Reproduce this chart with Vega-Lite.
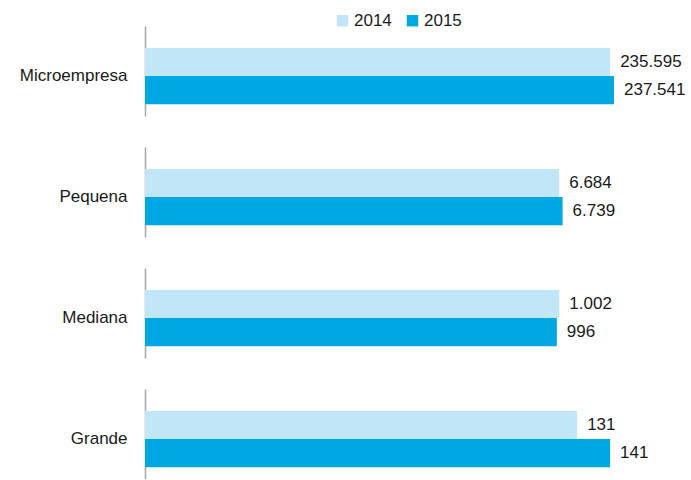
{
  "$schema": "https://vega.github.io/schema/vega-lite/v6.json",
  "padding": {"left": 19, "top": 12, "right": 5, "bottom": 0},
  "data": {"values": [
    {"categoria": "Microempresa", "ano": "2014", "valor": 235595},
    {"categoria": "Microempresa", "ano": "2015", "valor": 237541},
    {"categoria": "Pequena", "ano": "2014", "valor": 6684},
    {"categoria": "Pequena", "ano": "2015", "valor": 6739},
    {"categoria": "Mediana", "ano": "2014", "valor": 1002},
    {"categoria": "Mediana", "ano": "2015", "valor": 996},
    {"categoria": "Grande", "ano": "2014", "valor": 131},
    {"categoria": "Grande", "ano": "2015", "valor": 141}
  ]},
  "config": {
    "view": {"stroke": null},
    "font": "Liberation Sans",
    "locale": {"number": {"decimal": ",", "thousands": ".", "grouping": [3], "currency": ["", ""]}},
    "axisY": {"title": null, "labelFontSize": 17, "ticks": false, "labelPadding": 18, "domainColor": "#A6A6A6", "domainWidth": 1.5, "labelColor": "#1a1a1a", "grid": false},
    "text": {"fontSize": 17, "color": "#1a1a1a"}
  },
  "spacing": 31,
  "vconcat": [
    {
      "width": 540, "height": 90,
      "transform": [{"filter": "datum.categoria === 'Microempresa'"}],
      "encoding": {
        "y": {"field": "categoria", "type": "nominal", "scale": {"paddingOuter": 0.3, "paddingInner": 0, "align": 0.65}},
        "yOffset": {"field": "ano", "type": "nominal", "sort": ["2014", "2015"], "scale": {"paddingInner": 0, "paddingOuter": 0}},
        "x": {"field": "valor", "type": "quantitative", "scale": {"domain": [0, 273500]}, "axis": null}
      },
      "layer": [
        {"mark": {"type": "bar"}, "encoding": {"color": {"field": "ano", "type": "nominal", "scale": {"domain": ["2014", "2015"], "range": ["#C0E6F8", "#00A8E1"]},
          "legend": {"orient": "none", "legendX": 189, "legendY": -14, "direction": "horizontal", "title": null, "symbolType": "square", "symbolSize": 130, "symbolStrokeWidth": 0, "labelFontSize": 17, "labelColor": "#1a1a1a", "columnPadding": 12, "labelOffset": 3}}}},
        {"mark": {"type": "text", "align": "left", "baseline": "middle", "dx": 10}, "encoding": {"text": {"field": "valor", "type": "quantitative", "format": ",d"}}}
      ]
    },
    {
      "width": 540, "height": 90,
      "transform": [{"filter": "datum.categoria === 'Pequena'"}],
      "encoding": {
        "y": {"field": "categoria", "type": "nominal", "scale": {"paddingOuter": 0.3, "paddingInner": 0, "align": 0.65}},
        "yOffset": {"field": "ano", "type": "nominal", "sort": ["2014", "2015"], "scale": {"paddingInner": 0, "paddingOuter": 0}},
        "x": {"field": "valor", "type": "quantitative", "scale": {"domain": [0, 8714]}, "axis": null}
      },
      "layer": [
        {"mark": {"type": "bar"}, "encoding": {"color": {"field": "ano", "type": "nominal", "scale": {"domain": ["2014", "2015"], "range": ["#C0E6F8", "#00A8E1"]}, "legend": null}}},
        {"mark": {"type": "text", "align": "left", "baseline": "middle", "dx": 10}, "encoding": {"text": {"field": "valor", "type": "quantitative", "format": ",d"}}}
      ]
    },
    {
      "width": 540, "height": 90,
      "transform": [{"filter": "datum.categoria === 'Mediana'"}],
      "encoding": {
        "y": {"field": "categoria", "type": "nominal", "scale": {"paddingOuter": 0.3, "paddingInner": 0, "align": 0.65}},
        "yOffset": {"field": "ano", "type": "nominal", "sort": ["2014", "2015"], "scale": {"paddingInner": 0, "paddingOuter": 0}},
        "x": {"field": "valor", "type": "quantitative", "scale": {"domain": [0, 1306]}, "axis": null}
      },
      "layer": [
        {"mark": {"type": "bar"}, "encoding": {"color": {"field": "ano", "type": "nominal", "scale": {"domain": ["2014", "2015"], "range": ["#C0E6F8", "#00A8E1"]}, "legend": null}}},
        {"mark": {"type": "text", "align": "left", "baseline": "middle", "dx": 10}, "encoding": {"text": {"field": "valor", "type": "quantitative", "format": ",d"}}}
      ]
    },
    {
      "width": 540, "height": 90,
      "transform": [{"filter": "datum.categoria === 'Grande'"}],
      "encoding": {
        "y": {"field": "categoria", "type": "nominal", "scale": {"paddingOuter": 0.3, "paddingInner": 0, "align": 0.65}},
        "yOffset": {"field": "ano", "type": "nominal", "sort": ["2014", "2015"], "scale": {"paddingInner": 0, "paddingOuter": 0}},
        "x": {"field": "valor", "type": "quantitative", "scale": {"domain": [0, 163.7]}, "axis": null}
      },
      "layer": [
        {"mark": {"type": "bar"}, "encoding": {"color": {"field": "ano", "type": "nominal", "scale": {"domain": ["2014", "2015"], "range": ["#C0E6F8", "#00A8E1"]}, "legend": null}}},
        {"mark": {"type": "text", "align": "left", "baseline": "middle", "dx": 10}, "encoding": {"text": {"field": "valor", "type": "quantitative", "format": ",d"}}}
      ]
    }
  ],
  "resolve": {"scale": {"x": "independent", "y": "independent", "yOffset": "independent"}}
}
